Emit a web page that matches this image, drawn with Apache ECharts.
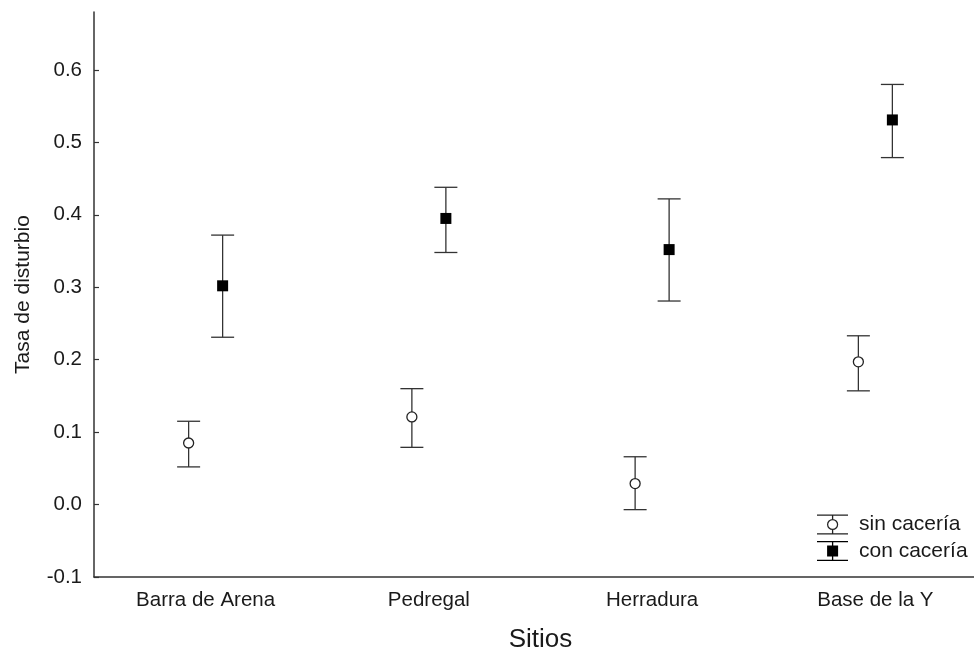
<!DOCTYPE html>
<html>
<head>
<meta charset="utf-8">
<script src="https://cdn.jsdelivr.net/npm/echarts@6/dist/echarts.min.js"></script>
<style>
html,body{margin:0;padding:0;background:#fff;}
#chart{width:974px;height:651px;}
</style>
</head>
<body>
<div id="chart"></div>
<script>
const sites = ['Barra de Arena', 'Pedregal', 'Herradura', 'Base de la Y'];
const sinMean = [0.085, 0.121, 0.029, 0.197];
const sinLow  = [0.052, 0.079, -0.007, 0.157];
const sinHigh = [0.115, 0.160, 0.066, 0.233];
const conMean = [0.302, 0.395, 0.352, 0.531];
const conLow  = [0.231, 0.348, 0.281, 0.479];
const conHigh = [0.372, 0.438, 0.422, 0.580];
const yTicks = [-0.1, 0.0, 0.1, 0.2, 0.3, 0.4, 0.5, 0.6];
const seriesNames = ['sin cacería', 'con cacería'];

const FONT = "'Liberation Sans', Arial, sans-serif";
const INK = '#1a1a1a';
const LINE = '#333';
const OFF = 17;
const CAP = 11.5;

function errRenderer(offset) {
  return function (params, api) {
    const x = api.value(0);
    const lo = api.coord([x, api.value(1)]);
    const hi = api.coord([x, api.value(2)]);
    const cx = lo[0] + offset;
    const st = { stroke: LINE, lineWidth: 1.3 };
    return {
      type: 'group',
      children: [
        { type: 'line', shape: { x1: cx, y1: lo[1], x2: cx, y2: hi[1] }, style: st },
        { type: 'line', shape: { x1: cx - CAP, y1: lo[1], x2: cx + CAP, y2: lo[1] }, style: st },
        { type: 'line', shape: { x1: cx - CAP, y1: hi[1], x2: cx + CAP, y2: hi[1] }, style: st }
      ]
    };
  };
}

const sinIcon = 'path://M0 0H31V1.3H0Z M0 18.7H31V20H0Z M14.95 1.3H16.25V4.4H14.95Z M14.95 15.6H16.25V18.7H14.95Z ' +
  'M10 10A5.6 5.6 0 1 0 21.2 10A5.6 5.6 0 1 0 10 10Z M11.25 10A4.35 4.35 0 1 1 19.95 10A4.35 4.35 0 1 1 11.25 10Z';
const conIcon = 'path://M0 0H31V1.3H0Z M0 18.7H31V20H0Z M14.95 1.3H16.25V18.7H14.95Z M10.1 4.5H21.1V15.5H10.1Z';

const chart = echarts.init(document.getElementById('chart'));
chart.setOption({
  animation: false,
  backgroundColor: '#fff',
  textStyle: { fontFamily: FONT },
  grid: { left: 94, top: 12, bottom: 74, width: 893, containLabel: false, outerBoundsMode: 'none' },
  legend: {
    orient: 'vertical',
    left: 817,
    top: 514,
    padding: 0,
    itemWidth: 31,
    itemHeight: 20,
    itemGap: 5.5,
    textStyle: { fontFamily: FONT, fontSize: 21, color: INK, padding: [0, 0, 0, 6] },
    data: [
      { name: seriesNames[0], icon: sinIcon, itemStyle: { color: '#222', borderWidth: 0 } },
      { name: seriesNames[1], icon: conIcon, itemStyle: { color: '#000', borderWidth: 0 } }
    ],
    selectedMode: false
  },
  xAxis: {
    type: 'category',
    data: sites,
    boundaryGap: true,
    name: 'Sitios',
    nameLocation: 'middle',
    nameGap: 50,
    nameTextStyle: { fontFamily: FONT, fontSize: 26, color: INK },
    axisLine: { onZero: false, lineStyle: { color: LINE, width: 1.5 } },
    axisTick: { inside: true, length: 5, alignWithLabel: true, lineStyle: { color: LINE, width: 1.2 } },
    axisLabel: { fontFamily: FONT, fontSize: 20.5, color: INK, margin: 13 },
    splitLine: { show: false }
  },
  yAxis: {
    type: 'value',
    min: -0.1,
    max: 0.68,
    name: 'Tasa de disturbio',
    nameLocation: 'middle',
    nameGap: 60,
    nameTextStyle: { fontFamily: FONT, fontSize: 21, color: INK },
    axisLine: { show: true, onZero: false, lineStyle: { color: LINE, width: 1.5 } },
    axisTick: { show: true, inside: true, length: 5, customValues: yTicks, lineStyle: { color: LINE, width: 1.2 } },
    axisLabel: {
      fontFamily: FONT, fontSize: 20.5, color: INK, margin: 12,
      customValues: yTicks,
      formatter: v => v.toFixed(1)
    },
    splitLine: { show: false }
  },
  series: [
    {
      name: 'sin_err', type: 'custom', z: 2,
      renderItem: errRenderer(-OFF),
      encode: { x: 0, y: [1, 2] },
      data: sites.map((s, i) => [i, sinLow[i], sinHigh[i]]),
      silent: true
    },
    {
      name: 'con_err', type: 'custom', z: 2,
      renderItem: errRenderer(OFF),
      encode: { x: 0, y: [1, 2] },
      data: sites.map((s, i) => [i, conLow[i], conHigh[i]]),
      silent: true
    },
    {
      name: seriesNames[0], type: 'scatter', z: 5,
      symbol: 'circle', symbolSize: 10, symbolOffset: [-OFF, 0],
      itemStyle: { color: '#fff', borderColor: '#222', borderWidth: 1.3, opacity: 1 },
      data: sites.map((s, i) => [i, sinMean[i]])
    },
    {
      name: seriesNames[1], type: 'scatter', z: 5,
      symbol: 'rect', symbolSize: 11, symbolOffset: [OFF, 0],
      itemStyle: { color: '#000', opacity: 1 },
      data: sites.map((s, i) => [i, conMean[i]])
    }
  ]
});
</script>
</body>
</html>
